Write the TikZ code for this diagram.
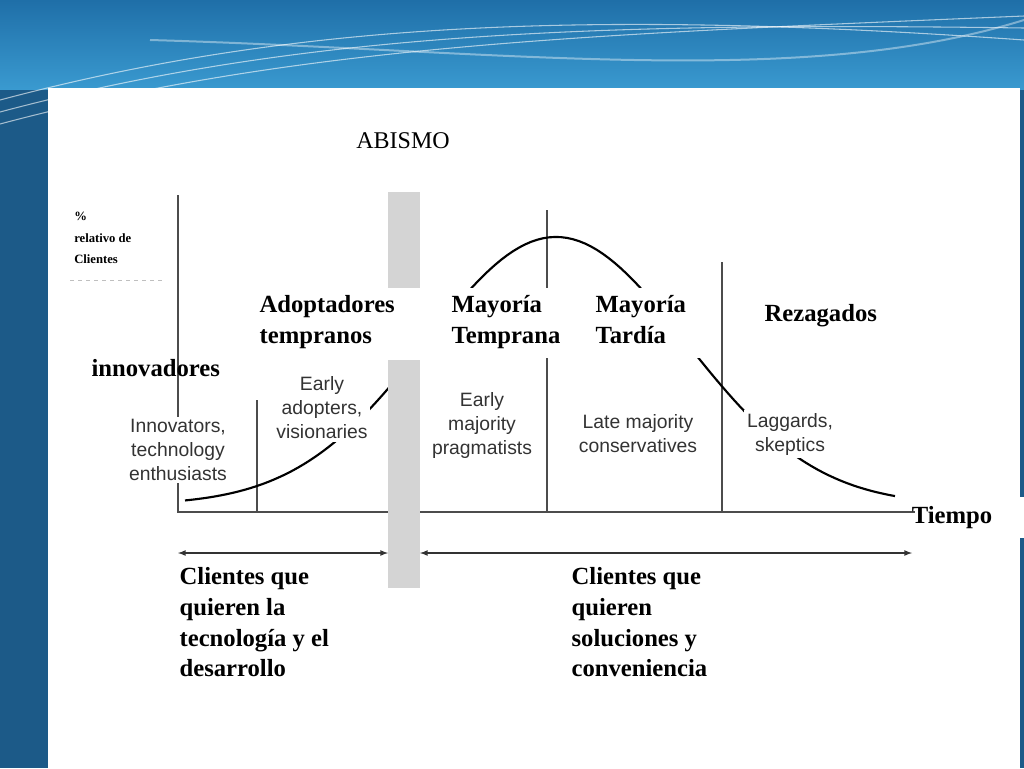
\documentclass[tikz,border=0pt]{standalone}
\usepackage{fontspec}
\setmainfont{Liberation Serif}
\newfontfamily\arial{Liberation Sans}
\definecolor{bgtop}{HTML}{1F6FA8}
\definecolor{bglight}{HTML}{3A9AD0}
\definecolor{bgside}{HTML}{1C5A88}
\begin{document}
\begin{tikzpicture}[x=0.75pt,y=-0.75pt,
  lab/.style={font=\bfseries\fontsize{18.5}{23}\selectfont,align=left,anchor=north west,inner sep=1pt},
  img/.style={font=\arial\fontsize{14.5}{18}\selectfont,text=black!80,align=center,inner sep=2pt,fill=white},
  ax/.style={draw=black!70,line width=1.2pt},
  arr/.style={black!80,line width=1pt,<->,>=latex}]
\useasboundingbox (0,0) rectangle (1024,768);
\shade[top color=bgtop,bottom color=bglight] (0,0) rectangle (1024,90);
\fill[bgside] (0,90) rectangle (1024,768);
\foreach \o in {0,12,24}{
 \draw[white,opacity=0.6,line width=0.8pt] (0,{100+\o}) .. controls (300,{20+\o}) and (600,{10+\o}) .. (1024,{40-\o});
}
\draw[white,opacity=0.4,line width=1.5pt] (150,40) .. controls (500,50) and (800,90) .. (1024,20);
\fill[white] (48,88) rectangle (1020,768);
\fill[white] (895,497) rectangle (1024,538);
\node[font=\fontsize{18}{22}\selectfont] (ab) at (403,141) {ABISMO};
\node[font=\bfseries\fontsize{9.5}{16}\selectfont,align=left,anchor=north west,inner sep=0] (pct) at (74,212) {\%\\relativo de\\Clientes};
\draw[black!25,dashed] (70,280) -- (165,280);
% axes and dividers
\coordinate (o) at (178,512); \coordinate (xe) at (915,512); \coordinate (yt) at (178,195);
\draw[ax] (yt) -- (o) -- (xe);
\draw[ax,line width=0.8pt] (257,400) -- (257,512);
\draw[ax,line width=0.8pt] (547,210) -- (547,512);
\draw[ax,line width=0.8pt] (722,262) -- (722,512);
\draw[black,line width=1.6pt,domain=185:895,samples=120] plot (\x,{505-268*exp(-((\x-556)/130)^2/2)});
\fill[black!17] (388,192) rectangle (420,588);
\fill[white] (240,288) rectangle (705,358);
\fill[white] (388,288) rectangle (420,360);
% image labels
\node[img] (inn) at (178,450) {Innovators,\\technology\\enthusiasts};
\node[img] (ea) at (322,408) {Early\\adopters,\\visionaries};
\node[img] (em) at (482,425) {Early\\majority\\pragmatists};
\node[img] (lm) at (638,434) {Late majority\\conservatives};
\node[img] (lg) at (790,434) {Laggards,\\skeptics};
% spanish labels
\node[lab] (l1) at (258,294) {Adoptadores\\tempranos};
\node[lab] (l2) at (450,294) {Mayoría\\Temprana};
\node[lab] (l3) at (594,294) {Mayoría\\Tardía};
\node[lab] (l4) at (763,303) {Rezagados};
\node[lab] (l5) at (90,358) {innovadores};
\node[lab,anchor=center] (ti) at (952,518) {Tiempo};
% arrows
\coordinate (a1) at (178,553); \coordinate (a2) at (388,553);
\coordinate (a3) at (420,553); \coordinate (a4) at (912,553);
\draw[arr] (a1) -- (a2);
\draw[arr] (a3) -- (a4);
\node[lab] (c1) at (178,566) {Clientes que\\quieren la\\tecnología y el\\desarrollo};
\node[lab] (c2) at (570,566) {Clientes que\\quieren\\soluciones y\\conveniencia};
\end{tikzpicture}
\end{document}
